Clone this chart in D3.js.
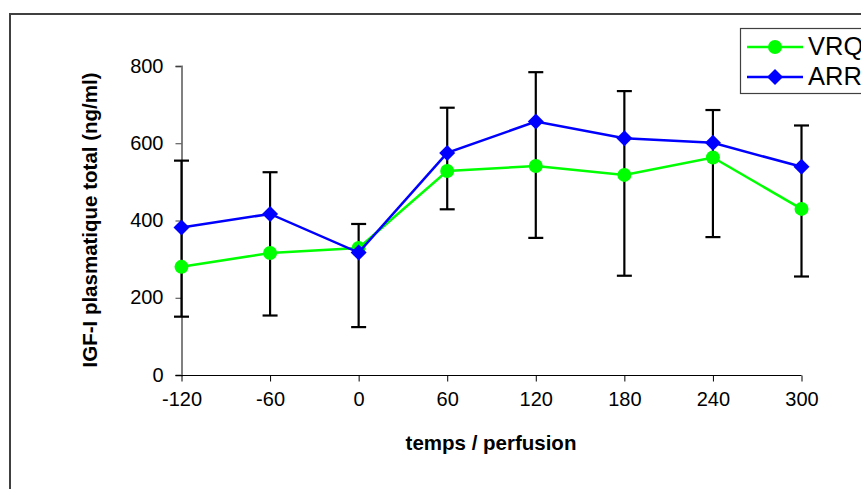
<!DOCTYPE html>
<html>
<head>
<meta charset="utf-8">
<script src="https://cdn.jsdelivr.net/npm/d3@7"></script>
<style>
  html, body { margin: 0; padding: 0; background: #fff; }
  svg { display: block; }
  text { font-family: Arial, "Liberation Sans", sans-serif; }
</style>
</head>
<body>
<svg id="chart" width="861" height="489"></svg>
<script>
// ---- data ----
const times = [-120, -60, 0, 60, 120, 180, 240, 300];
const vrq = [280, 316, 329, 528, 541, 518, 563, 430];
const arr = [382, 417, 317, 575, 656, 613, 601, 539];
// error bars: upper (ARR + SD) and lower (VRQ - SD) ends
const errTop = [555, 525, 391, 692, 784, 735, 686, 646];
const errBottom = [151, 154, 124, 429, 355, 257, 357, 255];
const yTicks = [0, 200, 400, 600, 800];
const seriesNames = ["VRQ", "ARR"];
const xTitle = "temps / perfusion";
const yTitle = "IGF-I plasmatique total (ng/ml)";

const svg = d3.select("#chart");
const fmt = d => String(d);

// outer border
svg.append("rect")
  .attr("x", 10).attr("y", 14)
  .attr("width", 900).attr("height", 520)
  .attr("fill", "none").attr("stroke", "#404040").attr("stroke-width", 2);

const x = d3.scaleLinear().domain([-120, 300]).range([181.5, 801.5]);
const y = d3.scaleLinear().domain([0, 800]).range([375, 66]);

// y axis
const yAxis = svg.append("g")
  .attr("transform", "translate(181.5,0)")
  .call(d3.axisLeft(y).tickValues(yTicks).tickSize(6).tickPadding(12).tickFormat(fmt));
yAxis.select(".domain").attr("stroke", "#808080").attr("stroke-width", 2);
yAxis.selectAll(".tick line").attr("stroke", "#404040").attr("stroke-width", 1);
yAxis.selectAll(".tick text").attr("font-size", 20).attr("fill", "#000").attr("dy", "0.3em")
  .attr("font-family", "Arial, 'Liberation Sans', sans-serif");

// x axis
const xAxis = svg.append("g")
  .attr("transform", "translate(0,375.5)")
  .call(d3.axisBottom(x).tickValues(times).tickSize(6).tickSizeOuter(0).tickPadding(10).tickFormat(fmt));
xAxis.select(".domain").attr("stroke", "#000").attr("stroke-width", 1.2)
  .attr("d", `M${x(-120) - 6},0H${x(300)}`);
xAxis.selectAll(".tick line").attr("stroke", "#000");
xAxis.selectAll(".tick text").attr("font-size", 20).attr("fill", "#000")
  .attr("font-family", "Arial, 'Liberation Sans', sans-serif");

// axis titles
svg.append("text")
  .attr("x", 491).attr("y", 450)
  .attr("text-anchor", "middle")
  .attr("font-weight", "bold").attr("font-size", 20.5)
  .text(xTitle);

svg.append("text")
  .attr("transform", "translate(97,220) rotate(-90)")
  .attr("text-anchor", "middle")
  .attr("font-weight", "bold").attr("font-size", 20.5)
  .text(yTitle);

// error bars
const eb = svg.append("g").attr("stroke", "#000").attr("stroke-width", 2.2);
times.forEach((t, i) => {
  eb.append("line").attr("x1", x(t)).attr("x2", x(t)).attr("y1", y(errTop[i])).attr("y2", y(errBottom[i]));
  eb.append("line").attr("x1", x(t) - 7.5).attr("x2", x(t) + 7.5).attr("y1", y(errTop[i])).attr("y2", y(errTop[i]));
  eb.append("line").attr("x1", x(t) - 7.5).attr("x2", x(t) + 7.5).attr("y1", y(errBottom[i])).attr("y2", y(errBottom[i]));
});

const line = d3.line().x(d => x(d[0])).y(d => y(d[1]));
const diamond = (cx, cy, r) => `M${cx},${cy - r}L${cx + r},${cy}L${cx},${cy + r}L${cx - r},${cy}Z`;

// VRQ series
svg.append("path").datum(times.map((t, i) => [t, vrq[i]]))
  .attr("d", line).attr("fill", "none").attr("stroke", "#00FF00").attr("stroke-width", 2.5);
svg.append("g").selectAll("circle").data(times.map((t, i) => [t, vrq[i]])).join("circle")
  .attr("cx", d => x(d[0])).attr("cy", d => y(d[1])).attr("r", 7).attr("fill", "#00FF00");

// ARR series
svg.append("path").datum(times.map((t, i) => [t, arr[i]]))
  .attr("d", line).attr("fill", "none").attr("stroke", "#0000FF").attr("stroke-width", 2.5);
svg.append("g").selectAll("path").data(times.map((t, i) => [t, arr[i]])).join("path")
  .attr("d", d => diamond(x(d[0]), y(d[1]), 8)).attr("fill", "#0000FF");

// legend
const lg = svg.append("g");
lg.append("rect").attr("x", 740.5).attr("y", 28.5).attr("width", 140).attr("height", 65)
  .attr("fill", "#fff").attr("stroke", "#404040").attr("stroke-width", 1.2);
const legColors = ["#00FF00", "#0000FF"];
seriesNames.forEach((name, i) => {
  const ly = 47 + i * 30;
  lg.append("line").attr("x1", 747).attr("x2", 803).attr("y1", ly).attr("y2", ly)
    .attr("stroke", legColors[i]).attr("stroke-width", 2.5);
  if (i === 0) {
    lg.append("circle").attr("cx", 775).attr("cy", ly).attr("r", 7).attr("fill", legColors[i]);
  } else {
    lg.append("path").attr("d", diamond(775, ly, 8)).attr("fill", legColors[i]);
  }
  lg.append("text").attr("x", 808).attr("y", ly + 7.5).attr("font-size", 25.5).attr("fill", "#000").text(name);
});
</script>
</body>
</html>
